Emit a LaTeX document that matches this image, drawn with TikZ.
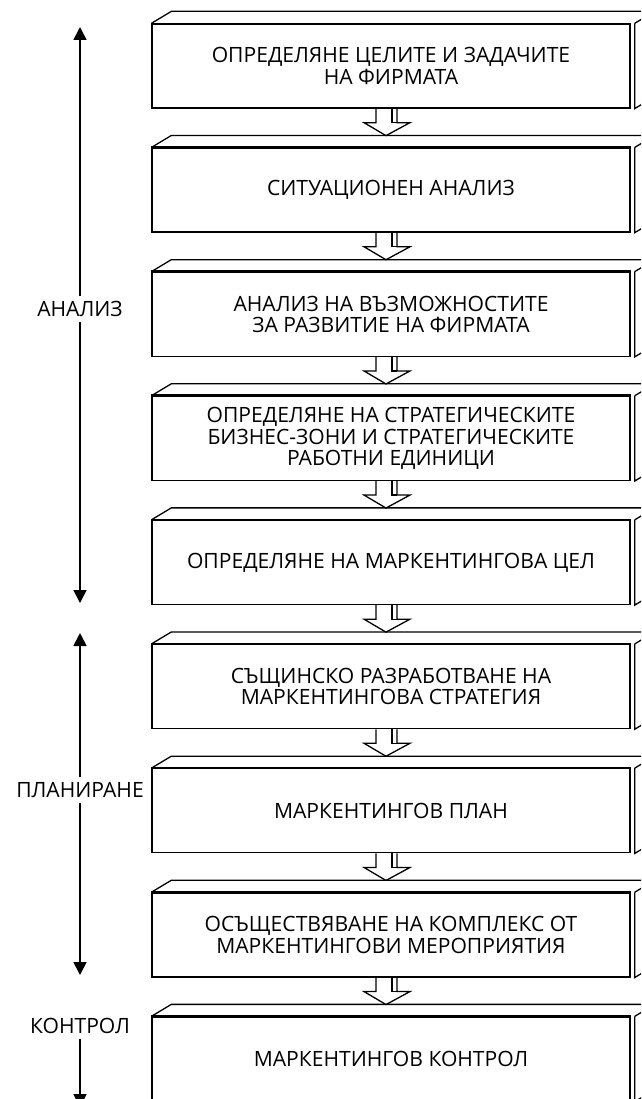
\documentclass[tikz,border=0pt]{standalone}
\usepackage{fontspec}
\setmainfont{Open Sans}
\usetikzlibrary{arrows.meta}
\begin{document}
\begin{tikzpicture}[x=0.03cm,y=-0.03cm,
  edge/.style={line width=1.1pt, line join=miter},
  stage/.style={draw, line width=1.1pt, minimum width=14.34cm, minimum height=2.52cm, inner sep=0pt,
    align=center, font=\fontsize{18}{18.2}\selectfont},
  phase/.style={inner sep=4pt, font=\fontsize{18}{18.2}\selectfont},
  vline/.style={line width=1.5pt, -{Triangle[width=0.39cm,length=0.39cm]}}]
\useasboundingbox (0,0) rectangle (641,1099);
\clip (0,0) rectangle (641,1099);
\node[stage] (b1) at (391,66) {ОПРЕДЕЛЯНЕ ЦЕЛИТЕ И ЗАДАЧИТЕ\\НА ФИРМАТА};
\node[stage] (b2) at (391,190.1) {СИТУАЦИОНЕН АНАЛИЗ};
\node[stage] (b3) at (391,314.3) {АНАЛИЗ НА ВЪЗМОЖНОСТИТЕ\\ЗА РАЗВИТИЕ НА ФИРМАТА};
\node[stage] (b4) at (391,438.4) {ОПРЕДЕЛЯНЕ НА СТРАТЕГИЧЕСКИТЕ\\БИЗНЕС-ЗОНИ И СТРАТЕГИЧЕСКИТЕ\\РАБОТНИ ЕДИНИЦИ};
\node[stage] (b5) at (391,562.5) {ОПРЕДЕЛЯНЕ НА МАРКЕНТИНГОВА ЦЕЛ};
\node[stage] (b6) at (391,686.6) {СЪЩИНСКО РАЗРАБОТВАНЕ НА\\МАРКЕНТИНГОВА СТРАТЕГИЯ};
\node[stage] (b7) at (391,810.8) {МАРКЕНТИНГОВ ПЛАН};
\node[stage] (b8) at (391,934.9) {ОСЪЩЕСТВЯВАНЕ НА КОМПЛЕКС ОТ\\МАРКЕНТИНГОВИ МЕРОПРИЯТИЯ};
\node[stage] (b9) at (391,1059) {МАРКЕНТИНГОВ КОНТРОЛ};
\foreach \n in {b1,b2,b3,b4,b5,b6,b7,b8,b9}{
  \draw[edge] (\n.north west) -- ++(20,-12) -- ([shift={(24,-12)}]\n.north east) -- ([shift={(24,-12)}]\n.south east);
  \draw[edge] ([shift={(4,0)}]\n.north east) -- ([shift={(4,0)}]\n.south east) -- ++(20,-12);
  \draw[edge] ([shift={(4,0)}]\n.north east) -- ++(20,-12);
}
\foreach \n in {b2,b3,b4,b5,b6,b7,b8,b9}{
  \draw[line width=2.2pt] (\n.north west) -- (\n.north east);
}
\foreach \n in {b1,b2,b3,b4,b5,b6,b7,b8}{
  \coordinate (p) at ([shift={(-5,0)}]\n.south);
  \draw[edge] (p) ++(-10,0) -- ++(0,14) -- ++(-12,0) -- ++(22,13) -- ++(24,-13) -- ++(-13,0) -- ++(0,-14);
  \draw[edge] (p) ++(6,0) -- ++(0,14) -- ++(5,0);
}
\node[phase] (l1) at (80,309) {АНАЛИЗ};
\node[phase] (l2) at (80,790) {ПЛАНИРАНЕ};
\node[phase] (l3) at (80,1026) {КОНТРОЛ};
\coordinate (a1) at (80,27);
\coordinate (z1) at (80,603);
\coordinate (a2) at (80,633);
\coordinate (z2) at (80,975);
\coordinate (z3) at (80,1107);
\draw[vline] (l1) -- (a1);
\draw[vline] (l1) -- (z1);
\draw[vline] (l2) -- (a2);
\draw[vline] (l2) -- (z2);
\draw[vline] (l3) -- (z3);
\end{tikzpicture}
\end{document}
